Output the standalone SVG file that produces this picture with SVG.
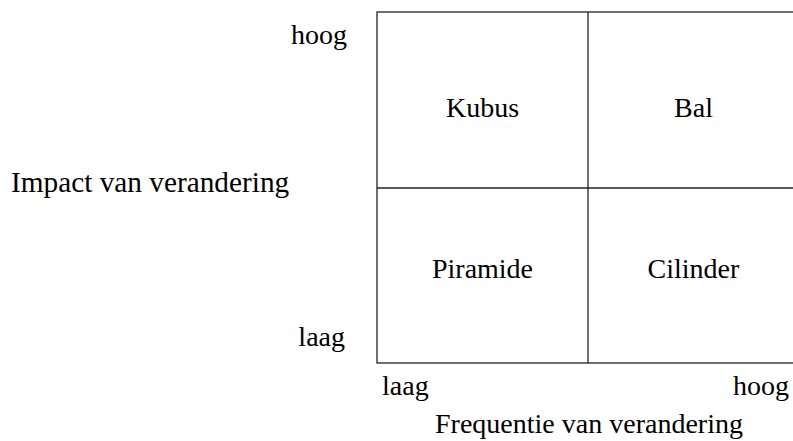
<svg xmlns="http://www.w3.org/2000/svg" width="793" height="441" viewBox="0 0 793 441">
<style>
.t{font-family:'Liberation Serif','Times New Roman',serif;font-size:28px;fill:#000}
.c{text-anchor:middle}
.e{text-anchor:end}
.ln{stroke:#222;stroke-width:1.3;fill:none}
</style>
<rect x="0" y="0" width="793" height="441" fill="#fff"/>
<g id="grid">
<rect class="ln" x="377" y="12" width="422" height="351"/>
<line class="ln" x1="588" y1="12" x2="588" y2="363"/>
<line class="ln" x1="377" y1="188" x2="799" y2="188"/>
</g>
<g id="connectors"></g>
<g id="kubus"><text class="t c" x="482.5" y="117">Kubus</text></g>
<g id="bal"><text class="t c" x="693.5" y="117">Bal</text></g>
<g id="piramide"><text class="t c" x="482.5" y="278">Piramide</text></g>
<g id="cilinder"><text class="t c" x="693.5" y="278">Cilinder</text></g>
<g id="yaxis">
<text class="t e" x="347" y="44">hoog</text>
<text class="t" x="11" y="192" style="font-size:29.3px">Impact van verandering</text>
<text class="t e" x="345" y="346">laag</text>
</g>
<g id="xaxis">
<text class="t" x="382" y="395">laag</text>
<text class="t e" x="789" y="395">hoog</text>
<text class="t c" x="589" y="433">Frequentie van verandering</text>
</g>
</svg>
